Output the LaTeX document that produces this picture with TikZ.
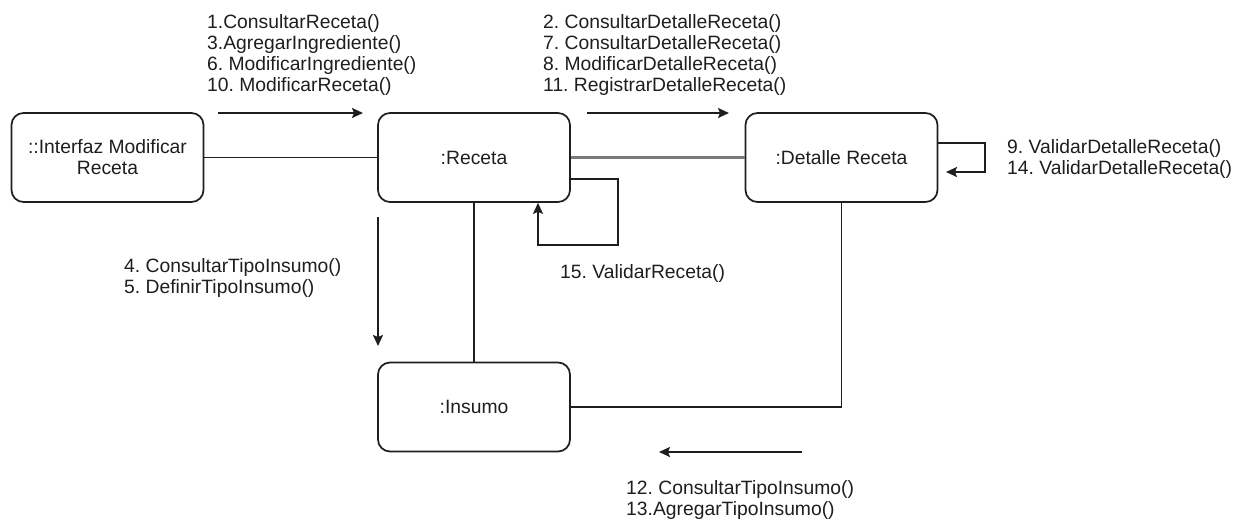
\documentclass[tikz,border=0pt]{standalone}
\usepackage{fontspec}
\setmainfont{Liberation Sans}
\usetikzlibrary{arrows.meta,calc}
\definecolor{inkc}{HTML}{1E1E1E}
\definecolor{linkgray}{HTML}{7A7A7A}
\frenchspacing
\begin{document}
\begin{tikzpicture}[x=1pt,y=-1pt,
  objbox/.style={draw=inkc, line width=1.7pt, rounded corners=12pt,
    minimum width=192pt, minimum height=89pt, align=center,
    font=\fontsize{19.3}{21}\selectfont, text=inkc, inner sep=0pt},
  msg/.style={align=left, anchor=west, inner sep=0pt,
    font=\fontsize{19.3}{21}\selectfont, text=inkc},
  link/.style={draw=inkc, line width=1.7pt},
  msgarrow/.style={draw=inkc, line width=1.7pt,
    -{Stealth[length=11pt,width=10pt,inset=2pt]}}
]
\useasboundingbox[fill=white] (0,0) rectangle (1248,519);

% objects
\node[objbox] (ui)  at (107.5,157.5) {::Interfaz Modificar\\Receta};
\node[objbox] (rec) at (474,157.5) {:Receta};
\node[objbox] (det) at (841.5,157.5) {:Detalle Receta};
\node[objbox] (ins) at (474,407) {:Insumo};

% links between objects
\draw[link] (ui.east) -- (rec.west);
\draw[link, draw=linkgray, line width=2.2pt] (rec.east) -- (det.west);
\draw[link] (rec.south) -- (ins.north);
\draw[link] (det.south) |- (ins.east);

% self link on :Receta
\coordinate (recA) at ($(rec.east)+(0,21.5)$);
\coordinate (recB) at (618,245);
\coordinate (recC) at (538,245);
\draw[msgarrow] (recA) -| (recB) -- (recC) -- (recC |- rec.south);

% self link on :Detalle Receta
\coordinate (detA) at ($(det.east)+(0,-14.5)$);
\coordinate (detB) at (985,172);
\coordinate (detC) at (946,172);
\draw[msgarrow] (detA) -| (detB) -- (detC);

% message arrows
\coordinate (m1s) at (218,113);  \coordinate (m1e) at (363,113);
\coordinate (m2s) at (587,113);  \coordinate (m2e) at (729,113);
\coordinate (m3s) at (378,217);  \coordinate (m3e) at (378,346);
\coordinate (m4s) at (802,452);  \coordinate (m4e) at (659,452);
\draw[msgarrow] (m1s) -- (m1e);
\draw[msgarrow] (m2s) -- (m2e);
\draw[msgarrow] (m3s) -- (m3e);
\draw[msgarrow] (m4s) -- (m4e);

% message labels
\node[msg] (l1) at (207,55) {1.ConsultarReceta()\\3.AgregarIngrediente()\\6. ModificarIngrediente()\\10. ModificarReceta()};
\node[msg] (l2) at (543,55) {2. ConsultarDetalleReceta()\\7. ConsultarDetalleReceta()\\8. ModificarDetalleReceta()\\11. RegistrarDetalleReceta()};
\node[msg] (l3) at (1007,159) {9. ValidarDetalleReceta()\\14. ValidarDetalleReceta()};
\node[msg] (l4) at (124,278) {4. ConsultarTipoInsumo()\\5. DefinirTipoInsumo()};
\node[msg] (l5) at (560,274) {15. ValidarReceta()};
\node[msg] (l6) at (626,500) {12. ConsultarTipoInsumo()\\13.AgregarTipoInsumo()};
\end{tikzpicture}
\end{document}
